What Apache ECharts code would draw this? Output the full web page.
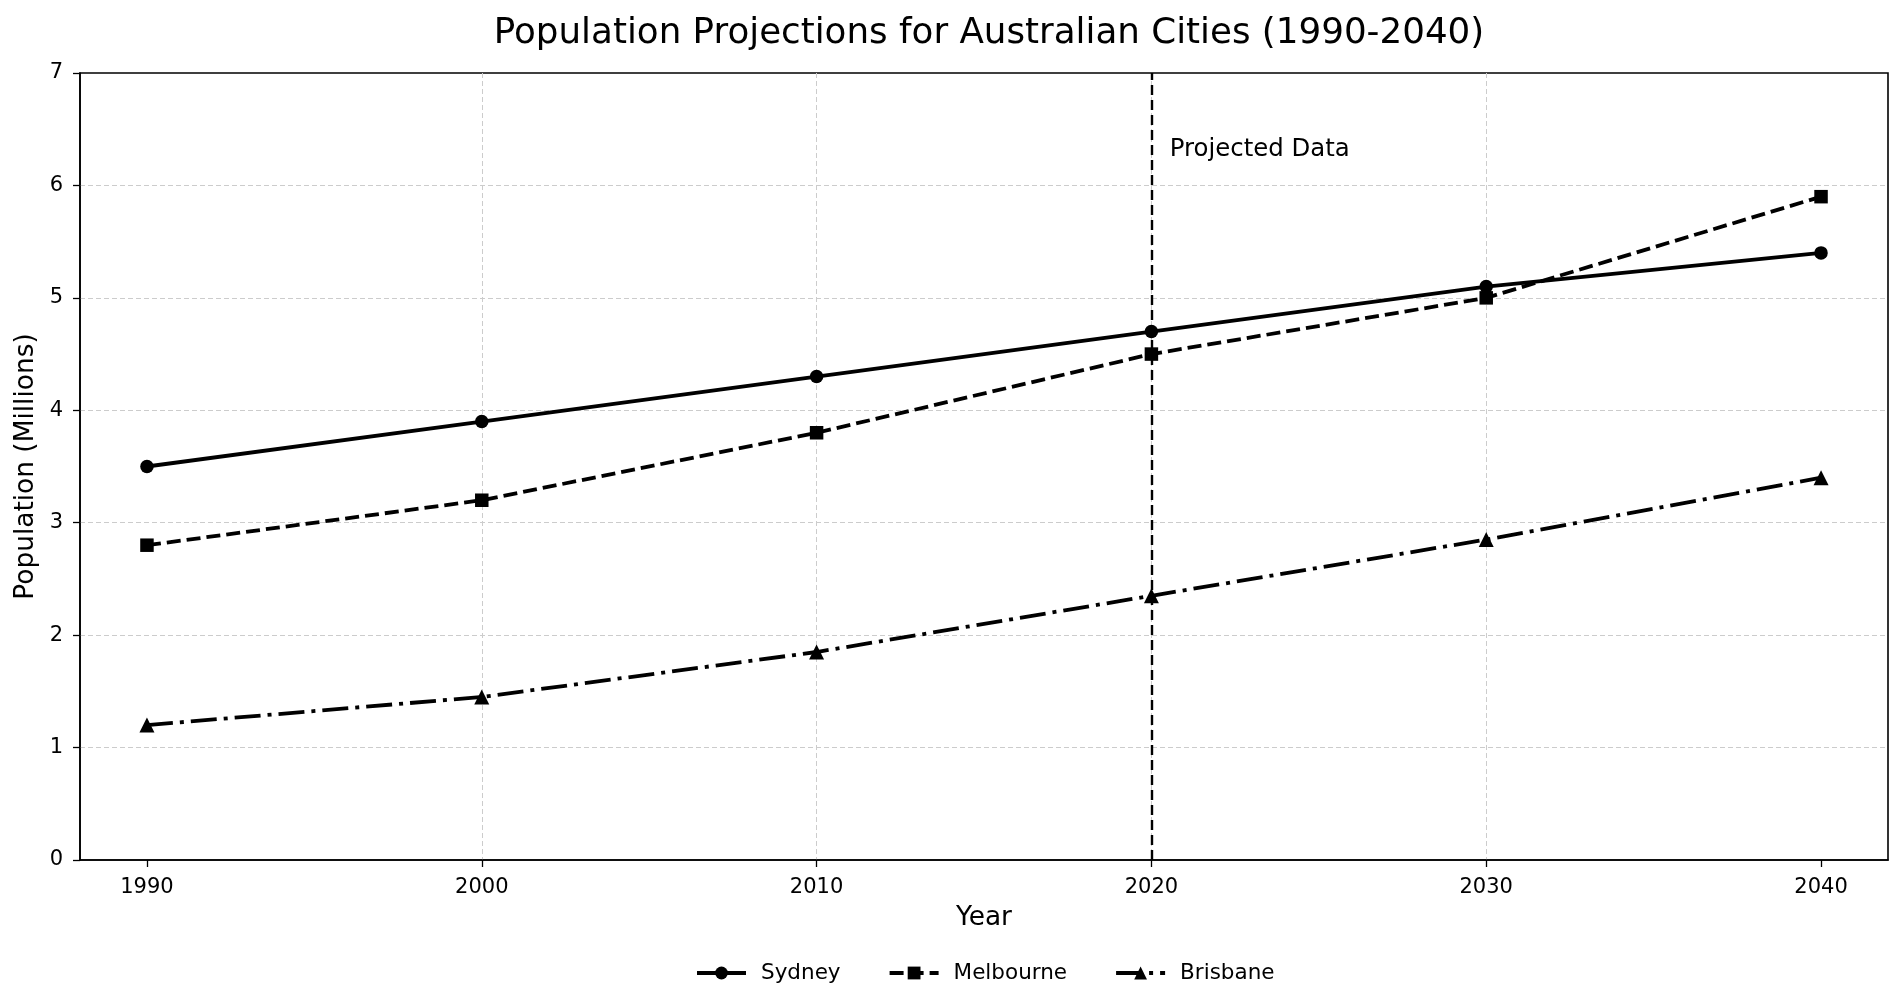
<!DOCTYPE html>
<html>
<head>
<meta charset="utf-8">
<title>Population Projections for Australian Cities (1990-2040)</title>
<script src="https://cdn.jsdelivr.net/npm/echarts@6/dist/echarts.min.js"></script>
<style>
  html, body { margin: 0; padding: 0; background: #fff; }
  #chart { width: 1904px; height: 1007px; }
</style>
</head>
<body>
<div id="chart"></div>
<script>
// data
const years = [1990, 2000, 2010, 2020, 2030, 2040];
const sydney = [3.5, 3.9, 4.3, 4.7, 5.1, 5.4];
const melbourne = [2.8, 3.2, 3.8, 4.5, 5.0, 5.9];
const brisbane = [1.2, 1.45, 1.85, 2.35, 2.85, 3.4];
const yTicks = [0, 1, 2, 3, 4, 5, 6, 7];
const projectedYear = 2020;

const font = 'DejaVu Sans';

function pairs(vals) {
  return years.map((y, i) => [y, vals[i]]);
}

const chart = echarts.init(document.getElementById('chart'));

const options = {
  backgroundColor: '#fff',
  animation: false,
  title: {
    text: 'Population Projections for Australian Cities (1990-2040)',
    left: 984,
    top: 11,
    textAlign: 'center',
    textStyle: { fontFamily: font, fontSize: 35.7, fontWeight: 'normal', color: '#000' }
  },
  grid: {
    left: 80, right: 16, top: 73, bottom: 147,
    show: true, borderColor: '#000', borderWidth: 1.6, backgroundColor: 'transparent'
  },
  legend: {
    data: ['Sydney', 'Melbourne', 'Brisbane'],
    bottom: 18,
    left: 690,
    itemWidth: 49,
    itemHeight: 16,
    itemGap: 47,
    lineStyle: { width: 4 },
    textStyle: { fontFamily: font, fontSize: 21.5, color: '#000', padding: [0, 0, 0, 10] }
  },
  xAxis: {
    type: 'value',
    min: 1988,
    max: 2042,
    name: 'Year',
    nameLocation: 'middle',
    nameGap: 45,
    nameTextStyle: { fontFamily: font, fontSize: 26.4, color: '#000' },
    axisLine: { show: true, onZero: false, lineStyle: { color: '#000', width: 1.6 } },
    axisTick: { show: true, length: 7, lineStyle: { color: '#000', width: 1.3 }, customValues: years },
    axisLabel: { fontFamily: font, fontSize: 21, color: '#000', margin: 17, customValues: years,
      formatter: v => String(v) },
    splitLine: { show: true, showMinLine: false, showMaxLine: false,
      lineStyle: { color: '#cccccc', type: [5, 3], width: 1 } }
  },
  yAxis: {
    type: 'value',
    min: 0,
    max: 7,
    interval: 1,
    name: 'Population (Millions)',
    nameLocation: 'middle',
    nameGap: 40,
    nameTextStyle: { fontFamily: font, fontSize: 26.4, color: '#000' },
    axisLine: { show: true, lineStyle: { color: '#000', width: 1.6 } },
    axisTick: { show: true, length: 7, lineStyle: { color: '#000', width: 1.3 } },
    axisLabel: { fontFamily: font, fontSize: 21, color: '#000', margin: 17,
      formatter: v => yTicks.includes(v) ? String(v) : '' },
    splitLine: { show: true, showMinLine: false, showMaxLine: false,
      lineStyle: { color: '#cccccc', type: [5, 3], width: 1 } }
  },
  series: [
    {
      name: 'Sydney',
      type: 'line',
      data: pairs(sydney),
      symbol: 'circle',
      symbolSize: 13.5,
      color: '#000',
      lineStyle: { color: '#000', width: 3.8, type: 'solid' },
      itemStyle: { color: '#000' },
      z: 3
    },
    {
      name: 'Melbourne',
      type: 'line',
      data: pairs(melbourne),
      symbol: 'rect',
      symbolSize: 13.5,
      color: '#000',
      lineStyle: { color: '#000', width: 3.8, type: [14, 6] },
      itemStyle: { color: '#000' },
      z: 3
    },
    {
      name: 'Brisbane',
      type: 'line',
      data: pairs(brisbane),
      symbol: 'triangle',
      symbolSize: 15,
      color: '#000',
      lineStyle: { color: '#000', width: 3.8, type: [26, 7, 4, 7] },
      itemStyle: { color: '#000' },
      z: 3,
      markLine: {
        silent: true,
        symbol: 'none',
        label: { show: false },
        lineStyle: { color: '#000', width: 2.4, type: [10, 5] },
        data: [{ xAxis: projectedYear }]
      }
    },
    {
      name: 'annotation',
      type: 'scatter',
      data: [[2020.55, 6.32]],
      symbolSize: 0,
      silent: true,
      itemStyle: { opacity: 1 },
      label: {
        show: true,
        position: 'right',
        distance: 0,
        formatter: 'Projected Data',
        fontFamily: font,
        fontSize: 24.4,
        color: '#000',
        opacity: 1
      }
    }
  ]
};

chart.setOption(options);
</script>
</body>
</html>
